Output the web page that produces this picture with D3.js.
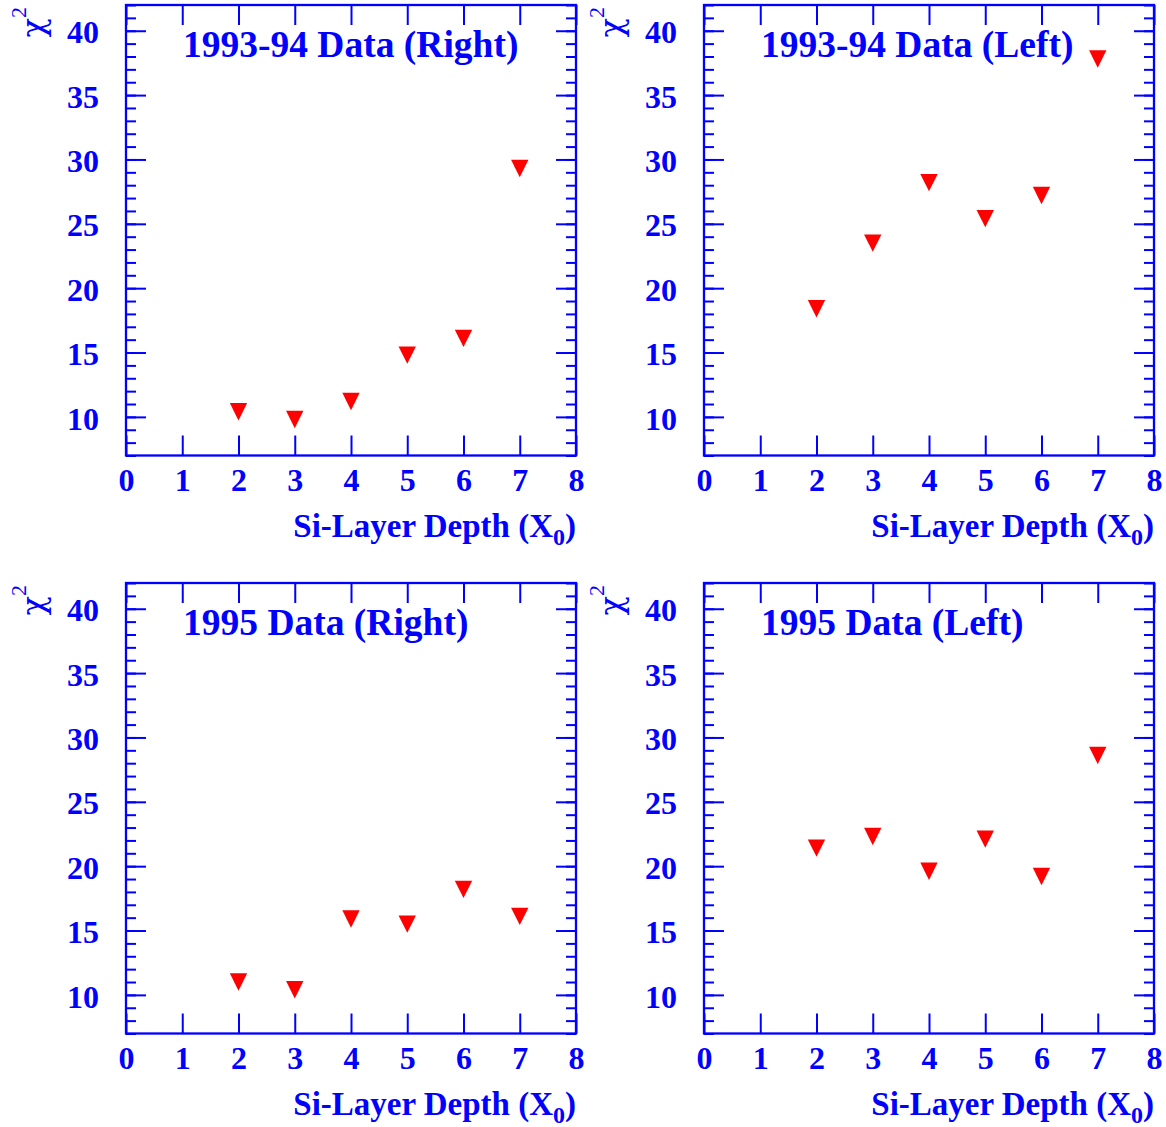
<!DOCTYPE html>
<html>
<head>
<meta charset="utf-8">
<script src="https://cdn.jsdelivr.net/npm/d3@7"></script>
<style>
  body { margin: 0; background: #fff; }
  svg { display: block; }
  text { font-family: "Liberation Serif", "Times New Roman", serif; fill: #0000ff; }
</style>
</head>
<body>
<div id="chart"></div>
<script>
// Si-layer depths (X0) where chi2 was evaluated
var depths = [2, 3, 4, 5, 6, 7];

// chi2 values
var chi2Right9394 = [10.4, 9.8, 11.2, 14.8, 16.1, 29.3];
var chi2Left9394 = [18.4, 23.5, 28.2, 25.4, 27.2, 37.8];
var chi2Right95 = [11.0, 10.4, 15.9, 15.5, 18.2, 16.1];
var chi2Left95 = [21.4, 22.3, 19.6, 22.1, 19.2, 28.6];

var panelTitles = ["1993-94 Data (Right)", "1993-94 Data (Left)", "1995 Data (Right)", "1995 Data (Left)"];

var xTicks = [0, 1, 2, 3, 4, 5, 6, 7, 8];
var yTicks = [10, 15, 20, 25, 30, 35, 40];
var yMinorTicks = d3.range(7, 43);

var xDomain = [0, 8];
var yDomain = [7, 42];

var blue = "#0000ff";
var red = "#ff0000";

var svg = d3.select("#chart").append("svg")
    .attr("width", 1166)
    .attr("height", 1127);

// panel frame sizes
var frame = {left: 126, top: 5, width: 450, height: 450.5},
    step = 578;

var x = d3.scaleLinear().domain(xDomain).range([0, frame.width]);
var y = d3.scaleLinear().domain(yDomain).range([frame.height, 0]);

// downward triangle, as tall as it is wide
var triangleDown = {
    draw: function(context, size) {
        var r = Math.sqrt(size) / 2;
        context.moveTo(-r, -r);
        context.lineTo(r, -r);
        context.lineTo(0, r);
        context.closePath();
    }
};
var marker = d3.symbol().type(triangleDown).size(17.4 * 17.4);

var panels = [
    {title: panelTitles[0], values: chi2Right9394, col: 0, row: 0},
    {title: panelTitles[1], values: chi2Left9394, col: 1, row: 0},
    {title: panelTitles[2], values: chi2Right95, col: 0, row: 1},
    {title: panelTitles[3], values: chi2Left95, col: 1, row: 1}
];

function styleAxis(g) {
    g.select(".domain").remove();
    g.selectAll("line").attr("stroke", blue).attr("stroke-width", 2);
}

panels.forEach(function(p) {
    var g = svg.append("g")
        .attr("transform", "translate(" + (frame.left + p.col * step) + "," + (frame.top + p.row * step) + ")");

    // minor y ticks, both sides
    g.append("g")
        .call(d3.axisLeft(y).tickValues(yMinorTicks).tickSize(-10).tickFormat(""))
        .call(styleAxis);
    g.append("g")
        .attr("transform", "translate(" + frame.width + ",0)")
        .call(d3.axisRight(y).tickValues(yMinorTicks).tickSize(-10).tickFormat(""))
        .call(styleAxis);

    // major y ticks with labels on the left
    var yl = g.append("g")
        .call(d3.axisLeft(y).tickValues(yTicks).tickSize(-20).tickPadding(27).tickFormat(d3.format("d")))
        .call(styleAxis);
    yl.selectAll("text")
        .attr("dy", "0.38em")
        .attr("font-size", 32)
        .attr("font-weight", "bold");
    g.append("g")
        .attr("transform", "translate(" + frame.width + ",0)")
        .call(d3.axisRight(y).tickValues(yTicks).tickSize(-20).tickFormat(""))
        .call(styleAxis);

    // x ticks, labels below
    var xl = g.append("g")
        .attr("transform", "translate(0," + frame.height + ")")
        .call(d3.axisBottom(x).tickValues(xTicks).tickSize(-20).tickPadding(35).tickFormat(d3.format("d")))
        .call(styleAxis);
    xl.selectAll("text")
        .attr("dy", 0)
        .attr("font-size", 32)
        .attr("font-weight", "bold");
    g.append("g")
        .call(d3.axisTop(x).tickValues(xTicks).tickSize(-20).tickFormat(""))
        .call(styleAxis);

    // frame
    g.append("rect")
        .attr("width", frame.width)
        .attr("height", frame.height)
        .attr("fill", "none")
        .attr("stroke", blue)
        .attr("stroke-width", 2.3);

    // markers
    g.selectAll(".pt")
        .data(p.values)
        .enter()
        .append("path")
        .attr("class", "pt")
        .attr("d", marker)
        .attr("fill", red)
        .attr("transform", function(d, i) {
            return "translate(" + x(depths[i]) + "," + y(d) + ")";
        });

    // panel title
    g.append("text")
        .attr("x", 57)
        .attr("y", 51.5)
        .attr("font-size", 37.5)
        .attr("font-weight", "bold")
        .text(p.title);

    // x axis title
    var xt = g.append("text")
        .attr("x", frame.width)
        .attr("y", 531.5)
        .attr("text-anchor", "end")
        .attr("font-size", 33)
        .attr("font-weight", "bold");
    xt.append("tspan").text("Si-Layer Depth (X");
    xt.append("tspan").attr("font-size", 24).attr("dy", 8).text("0");
    xt.append("tspan").attr("dy", -8).text(")");

    // y axis title
    var yt = g.append("text")
        .attr("transform", "translate(-82,2) rotate(-90)")
        .attr("text-anchor", "end")
        .attr("font-size", 32);
    yt.append("tspan").attr("font-family", "DejaVu Serif").text("χ");
    yt.append("tspan").attr("font-size", 22).attr("dy", -18).text("2");
});
</script>
</body>
</html>
